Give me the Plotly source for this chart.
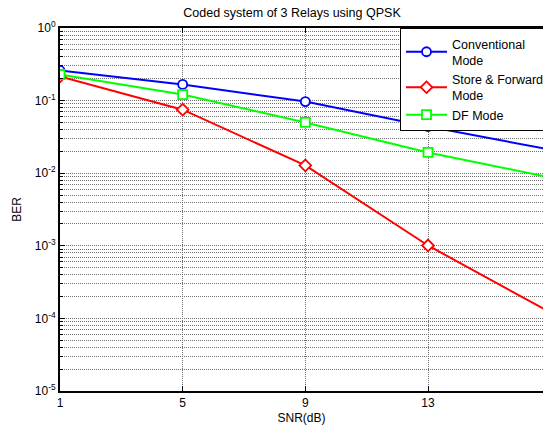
import plotly.graph_objects as go

snr = [1, 5, 9, 13, 17]
conventional = [0.26, 0.167, 0.097, 0.044, 0.021]
store_forward = [0.215, 0.075, 0.0128, 0.00101, 0.00012]
df_mode = [0.229, 0.121, 0.050, 0.0193, 0.0087]

names = ["Conventional<br>Mode", "Store & Forward<br>Mode", "DF Mode"]
colors = ["#0000ff", "#ff0000", "#00ff00"]
symbols = ["circle", "diamond", "square"]
series = [conventional, store_forward, df_mode]

x_ticks = [1, 5, 9, 13]
y_exps = list(range(-5, 1))
y_major = [10.0 ** e for e in y_exps]
y_labels = ["10<sup>%d</sup>" % e for e in y_exps]
y_minor = [m * 10.0 ** e for e in range(-5, 0) for m in range(2, 10)]

FONT = "Liberation Sans, Arial, sans-serif"
GRID = "#707070"

fig = go.Figure()
for name, col, sym, vals in zip(names, colors, symbols, series):
    fig.add_trace(go.Scatter(
        x=snr, y=vals, name=name, mode="lines+markers",
        line=dict(color=col, width=2),
        marker=dict(symbol=sym, size=9, color="white",
                    line=dict(color=col, width=1.8)),
    ))

fig.update_layout(
    width=543, height=430,
    margin=dict(l=60, r=0, t=28, b=39, autoexpand=False),
    paper_bgcolor="white", plot_bgcolor="white",
    font=dict(family=FONT, size=12, color="black"),
    title=dict(text="Coded system of 3 Relays using QPSK",
               x=292 / 543, xref="container", xanchor="center",
               y=1 - 13 / 430, yref="container", yanchor="middle",
               font=dict(size=12.5, color="black")),
    showlegend=True,
    legend=dict(x=(400 - 60) / 483, y=1, xanchor="left", yanchor="top",
                bgcolor="white", bordercolor="black", borderwidth=1,
                font=dict(size=12.5), itemwidth=41,
                tracegroupgap=0),
)

fig.update_xaxes(
    range=[1, 16.75], tickmode="array", tickvals=x_ticks,
    ticktext=[str(v) for v in x_ticks],
    showline=True, linecolor="black", linewidth=2, mirror="ticks",
    ticks="inside", ticklen=5, tickcolor="black",
    showgrid=True, gridcolor=GRID, griddash="1px,1px", gridwidth=1,
    zeroline=False,
    title=dict(text="SNR(dB)", font=dict(size=12), standoff=4),
)
fig.update_yaxes(
    type="log", range=[-5, 0], tickmode="array", tickvals=y_major,
    ticktext=y_labels,
    showline=True, linecolor="black", linewidth=2, mirror=False,
    ticks="inside", ticklen=5, tickcolor="black",
    showgrid=True, gridcolor=GRID, griddash="1px,1px", gridwidth=1,
    minor=dict(tickmode="array", tickvals=y_minor, ticks="inside",
               ticklen=3, tickcolor="black", showgrid=True,
               gridcolor=GRID, griddash="1px,1px", gridwidth=1),
    zeroline=False,
    title=dict(text="BER", font=dict(size=12), standoff=11),
)

fig.write_html(
    "out.html",
    config={"displayModeBar": False},
    post_script="document.body.style.margin='0';"
                "document.body.style.overflow='hidden';",
)
